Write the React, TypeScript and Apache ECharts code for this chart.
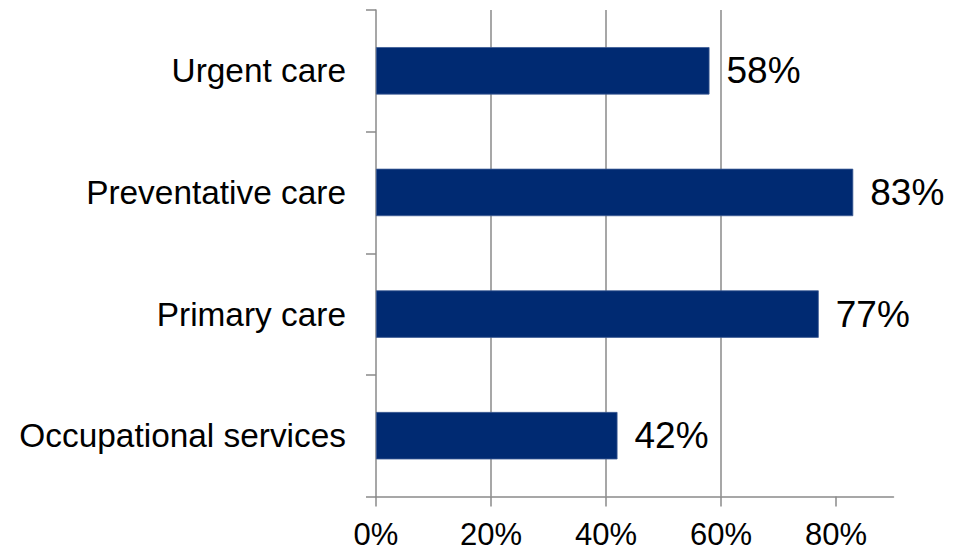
import React, { useEffect, useRef } from "react";
import * as echarts from "echarts";

const categories = ["Urgent care", "Preventative care", "Primary care", "Occupational services"];
const values = [58, 83, 77, 42];
const tickValues = [0, 20, 40, 60, 80];

export default function App() {
  const ref = useRef<HTMLDivElement>(null);
  useEffect(() => {
    if (!ref.current) return;
    const chart = echarts.init(ref.current, undefined, { renderer: "svg" });
    const gray = "#8a8a8a";
    chart.setOption({
      animation: false,
      backgroundColor: "#ffffff",
      grid: { left: 376, right: 70.5, top: 10, bottom: 55.5, containLabel: false },
      xAxis: {
        type: "value",
        min: 0,
        max: 90,
        interval: 20,
        axisLine: { show: true, lineStyle: { color: gray, width: 1.5 } },
        axisTick: { show: true, length: 10, customValues: tickValues, lineStyle: { color: gray, width: 1.5 } },
        axisLabel: {
          customValues: tickValues,
          formatter: (v: number) => v + "%",
          fontFamily: "Liberation Sans, Arial, sans-serif",
          fontSize: 31,
          color: "#000",
          margin: 22,
        },
        splitLine: { show: true, showMinLine: false, showMaxLine: false, lineStyle: { color: gray, width: 1.5 } },
      },
      yAxis: {
        type: "category",
        data: categories,
        inverse: true,
        axisLine: { show: true, lineStyle: { color: gray, width: 1.5 } },
        axisTick: { show: true, length: 10, lineStyle: { color: gray, width: 1.5 } },
        axisLabel: {
          fontFamily: "Liberation Sans, Arial, sans-serif",
          fontSize: 33.4,
          color: "#000",
          margin: 30,
        },
        splitLine: { show: false },
      },
      series: [
        {
          type: "bar",
          data: values,
          barWidth: "39%",
          itemStyle: { color: "#002a72", borderColor: "#3c5a94", borderWidth: 0.8 },
          label: {
            show: true,
            position: "right",
            distance: 17,
            formatter: (p: any) => p.value + "%",
            fontFamily: "Liberation Sans, Arial, sans-serif",
            fontSize: 37,
            color: "#000",
          },
        },
      ],
    });
    return () => chart.dispose();
  }, []);
  return <div ref={ref} style={{ width: 964, height: 552, position: "fixed", left: 0, top: 0 }} />;
}
